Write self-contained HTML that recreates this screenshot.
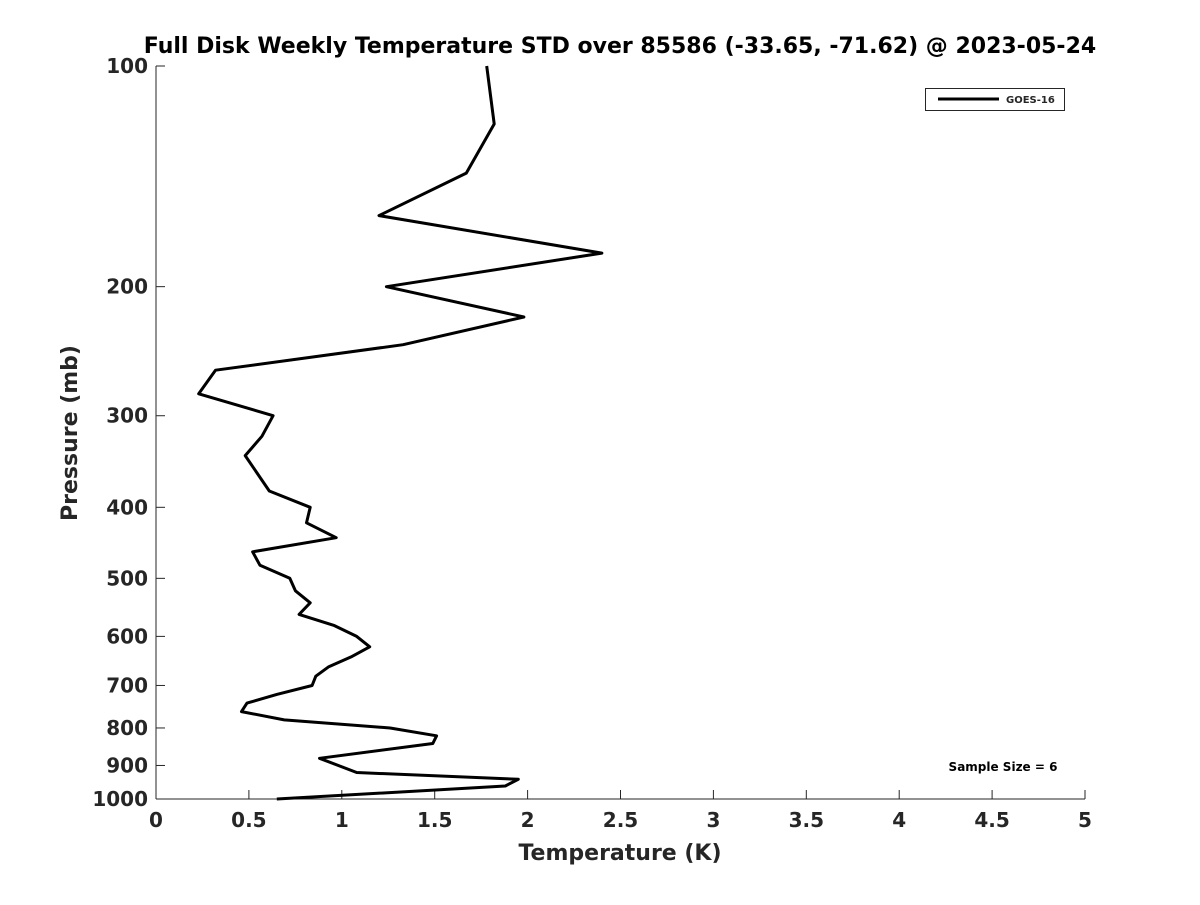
<!DOCTYPE html>
<html><head><meta charset="utf-8"><style>
body{margin:0;background:#fff;width:1200px;height:900px;overflow:hidden}
svg text{font-family:"DejaVu Sans","Liberation Sans",sans-serif;font-weight:bold;fill:#262626}
</style></head><body>
<svg id="chart" width="1200" height="900" xmlns="http://www.w3.org/2000/svg">
<text x="620" y="53" font-size="22" text-anchor="middle" style="fill:#000">Full Disk Weekly Temperature STD over 85586 (-33.65, -71.62) @ 2023-05-24</text>
<g id="axes"></g>
<path id="line" fill="none" stroke="#000" stroke-width="3" stroke-linejoin="round"/>
<g>
<rect x="925.5" y="88.5" width="139" height="22" fill="#fff" stroke="#262626" stroke-width="1"/>
<line x1="938" y1="99" x2="999" y2="99" stroke="#000" stroke-width="3"/>
<text x="1006" y="103" font-size="10">GOES-16</text>
</g>
<text x="1003" y="771" font-size="12" text-anchor="middle" style="fill:#000">Sample Size = 6</text>
<text x="620" y="860" font-size="22" text-anchor="middle">Temperature (K)</text>
<text transform="translate(77,433) rotate(-90)" font-size="22" text-anchor="middle">Pressure (mb)</text>
</svg>
<script>
const temps=[1.78,1.82,1.67,1.20,2.40,1.24,1.98,1.33,0.32,0.23,0.63,0.57,0.48,0.61,0.83,0.81,0.97,0.52,0.56,0.72,0.75,0.83,0.77,0.96,1.08,1.15,1.05,0.93,0.86,0.84,0.65,0.49,0.46,0.69,1.26,1.51,1.49,0.88,1.08,1.95,1.88,0.65];
const pressures=[100,120,140,160,180,200,220,240,260,280,300,320,340,380,400,420,440,460,480,500,520,540,560,580,600,620,640,660,680,700,720,740,760,780,800,820,840,880,920,940,960,1000];
const xTicks=[0,0.5,1,1.5,2,2.5,3,3.5,4,4.5,5];
const xTickLabels=["0","0.5","1","1.5","2","2.5","3","3.5","4","4.5","5"];
const yTicks=[100,200,300,400,500,600,700,800,900,1000];
const X0=156,X1=1085,Y0=66,Y1=799;
const xs=v=>X0+(v-0)/(5-0)*(X1-X0);
const ys=p=>Y0+(Math.log10(p)-2)/(3-2)*(Y1-Y0);
const NS="http://www.w3.org/2000/svg";
const ax=document.getElementById('axes');
function mk(tag,attrs,parent){const e=document.createElementNS(NS,tag);for(const k in attrs)e.setAttribute(k,attrs[k]);parent.appendChild(e);return e;}
const la=mk('line',{x1:X0,y1:Y0,x2:X0,y2:Y1,stroke:'#262626','stroke-width':1},ax);


const lb=mk('line',{x1:X0,y1:Y1,x2:X1,y2:Y1,stroke:'#262626','stroke-width':1},ax);


xTicks.forEach((v,i)=>{const x=xs(v);
 const t=mk('line',{x1:x,y1:Y1,x2:x,y2:Y1-9,stroke:'#262626'},ax);
 
 
 const l=mk('text',{x:x,y:Y1+28,'font-size':20,'text-anchor':'middle'},ax);l.textContent=xTickLabels[i];
 
 
});
yTicks.forEach(p=>{const y=ys(p);
 const t=mk('line',{x1:X0,y1:y,x2:X0+9,y2:y,stroke:'#262626'},ax);
 
 
 const l=mk('text',{x:X0-8,y:y+7,'font-size':20,'text-anchor':'end'},ax);l.textContent=p;
 
 
});
document.getElementById('line').setAttribute('d',temps.map((t,i)=>(i?'L':'M')+xs(t).toFixed(1)+','+ys(pressures[i]).toFixed(1)).join(''));
</script>
</body></html>
